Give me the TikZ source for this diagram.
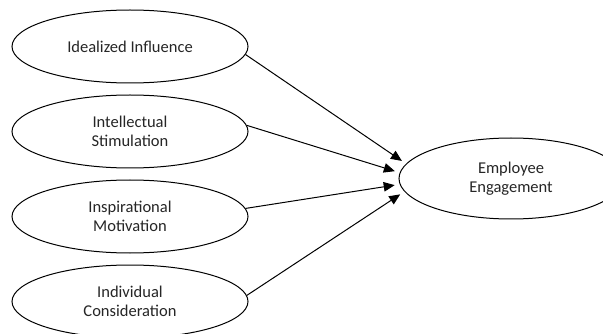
\documentclass[tikz,border=0pt]{standalone}
\usepackage{fontspec}
\setmainfont{Carlito}
\usepackage{tikz}
\usetikzlibrary{arrows.meta,positioning,shapes.geometric}
\tikzset{
  construct/.style={ellipse,draw=black,line width=1pt,fill=white,minimum width=236pt,minimum height=73pt,inner sep=0pt,align=center,text=black!85,font=\fontsize{16.5}{19.5}\selectfont},
  outcome/.style={construct,minimum width=224pt,minimum height=81pt},
  link/.style={-{Triangle[length=11pt,width=9.5pt]},line width=1pt,shorten >=5pt},
}
\begin{document}
\begin{tikzpicture}[x=1pt,y=-1pt]
    \useasboundingbox (0,0) rectangle (603,334);
    \node[construct] (ideal) at (130,46.5) {Idealized Influence};
    \node[construct,below=11pt of ideal] (intel) {Intellectual\\Stimulation};
    \node[construct,below=11pt of intel] (inspire) {Inspirational\\Motivation};
    \node[construct,below=11pt of inspire] (indiv) {Individual\\Consideration};
    \node[outcome,right=150pt of intel,yshift=-47pt] (engage) {Employee\\Engagement};
    \draw[link] (ideal.-4) -- (engage.172);
    \draw[link] (intel.3) -- (engage.177);
    \draw[link] (inspire.4) -- (engage.183);
    \draw[link] (indiv.3) -- (engage.187);
\end{tikzpicture}
\end{document}
